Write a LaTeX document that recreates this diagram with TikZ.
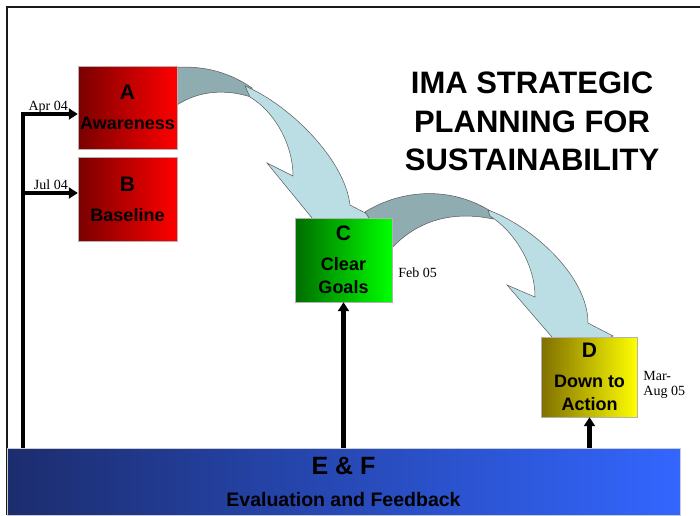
\documentclass[tikz,border=0pt]{standalone}
\usepackage{fontspec}
\setmainfont{Liberation Sans}
\newfontfamily\datefont{Liberation Serif}
\usetikzlibrary{positioning,arrows.meta}
\definecolor{flowlight}{RGB}{186,222,228}
\definecolor{flowdark}{RGB}{143,172,176}
\definecolor{reddark}{RGB}{122,0,0}
\definecolor{greendark}{RGB}{0,110,0}
\definecolor{yellowdark}{RGB}{128,112,0}
\definecolor{bluedark}{RGB}{28,45,110}
\definecolor{bluelight}{RGB}{51,102,255}

\begin{document}
\begin{tikzpicture}[x=1pt, y=-1pt, >={Triangle[length=9pt,width=11pt]},
        every node/.append style={inner sep=0pt}]
      \tikzstyle{stage} = [draw=gray!60, line width=0.4pt, align=center,
        font=\fontsize{18}{23}\selectfont\bfseries]
      \tikzstyle{date} = [font=\datefont\fontsize{14}{15}\selectfont]
      \tikzstyle{back} = [fill=flowdark, draw=gray!70!black, line width=0.5pt]
      \tikzstyle{front} = [fill=flowlight, draw=gray!70!black, line width=0.5pt]
      \tikzstyle{feed} = [->, line width=4.5pt]
      \useasboundingbox (0,0) rectangle (700,515);
      \draw[line width=2pt, black!90] (700,7) -- (7,7) -- (7,515);
      % curved block arrows
      \path[back] (170,68) .. controls (205,64) and (232,74) .. (252,88) -- (254,98)
        .. controls (225,88) and (195,90) .. (170,110) -- cycle;
      \path[front] (245,86) .. controls (290,105) and (345,160) .. (350,205)
        -- (373,217) -- (330,240) -- (267,163) -- (293,176)
        .. controls (293,145) and (275,112) .. (250,97) -- cycle;
      \path[back] (365,212) .. controls (400,190) and (450,185) .. (492,212) -- (493,219)
        .. controls (450,210) and (415,222) .. (390,250) -- cycle;
      \path[front] (488,210) .. controls (530,225) and (588,275) .. (588,323)
        -- (613,336) -- (570,358) -- (507,285) -- (535,297)
        .. controls (535,265) and (515,232) .. (490,216) -- cycle;
      \node (A) [stage, minimum width=99pt, minimum height=83pt, left color=reddark, right color=red]
        at (127.5,107.5) {{\fontsize{21}{21}\selectfont A}\\[7pt]Awareness};
      \node (B) [stage, minimum width=99pt, minimum height=84pt, left color=reddark, right color=red]
        at (127.5,199.5) {{\fontsize{21}{21}\selectfont B}\\[7pt]Baseline};
      \node (C) [stage, minimum width=97pt, minimum height=84pt, left color=greendark, right color=green]
        at (343.5,260) {{\fontsize{21}{21}\selectfont C}\\[7pt]Clear\\Goals};
      \node (D) [stage, minimum width=96pt, minimum height=80pt, left color=yellowdark, right color=yellow]
        at (589.5,377) {{\fontsize{21}{21}\selectfont D}\\[7pt]Down to\\Action};
      \coordinate (spine) at (23,448);
      \draw[feed] (spine) |- ([yshift=-6.5pt]A.west);
      \draw[feed] ([yshift=6.5pt]B.west -| spine) -- ([yshift=6.5pt]B.west);
      \draw[feed] (C.south |- spine) -- (C.south);
      \draw[feed] (D.south |- spine) -- (D.south);
      \node (EF) [draw=gray!40, line width=0.4pt, minimum width=673pt, minimum height=67pt,
        left color=bluedark, right color=bluelight, align=center,
        font=\fontsize{19.5}{32}\selectfont\bfseries]
        at (343.5,481.5) {{\fontsize{25}{25}\selectfont E \& F}\\Evaluation and Feedback};
      \node (apr) [date, anchor=base east] at (68,110) {Apr 04};
      \node (jul) [date, anchor=base east] at (68,189) {Jul 04};
      \node (feb) [date, right=6pt of C, yshift=-13pt] {Feb 05};
      \node (mar) [date, right=5.5pt of D, yshift=-7.5pt, align=left] {Mar-\\Aug 05};
      \node (title) [align=center, font=\fontsize{31}{38.5}\selectfont\bfseries]
        at (532,121.5) {IMA STRATEGIC\\PLANNING FOR\\SUSTAINABILITY};
    \end{tikzpicture}
\end{document}
